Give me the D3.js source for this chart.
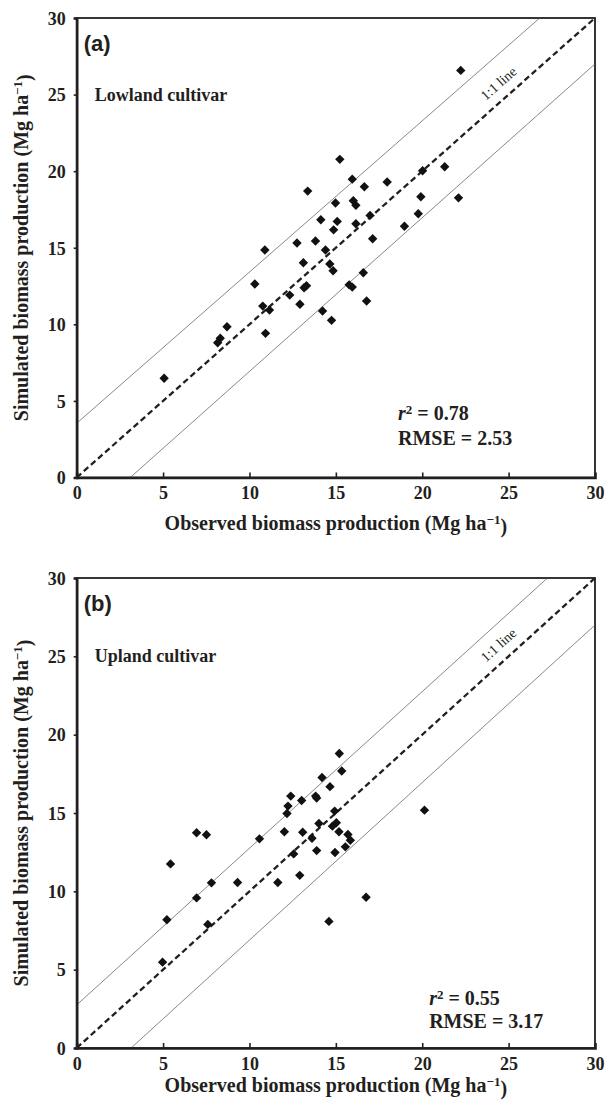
<!DOCTYPE html>
<html>
<head>
<meta charset="utf-8">
<script src="https://cdn.jsdelivr.net/npm/d3@7"></script>
<style>
  body { margin: 0; background: #fff; }
  svg { display: block; }
  text { fill: #231f20; }
</style>
</head>
<body>
<div id="chart"></div>
<script>
// tick values shared by both panels
const ticks = [0, 5, 10, 15, 20, 25, 30];

// (a) lowland cultivar: observed vs simulated (Mg ha-1)
const lowlandObs = [15.23, 15.95, 16.65, 17.97, 20.02, 13.37, 14.98, 16.01, 16.16, 19.92,
  14.13, 15.08, 14.87, 16.16, 16.98, 19.77, 18.97, 17.13, 10.89, 12.75,
  13.82, 14.4, 13.12, 14.65, 14.84, 16.59, 10.31, 13.3, 13.16, 15.77,
  15.95, 12.33, 16.78, 10.77, 11.16, 12.92, 14.23, 14.75, 8.7, 10.93,
  8.31, 8.16, 5.06, 22.23, 21.3, 22.1];
const lowlandSim = [20.77, 19.48, 18.98, 19.29, 20.03, 18.7, 17.92, 18.07, 17.77, 18.33,
  16.83, 16.72, 16.17, 16.57, 17.11, 17.22, 16.4, 15.59, 14.85, 15.31,
  15.44, 14.85, 14.02, 13.94, 13.5, 13.37, 12.63, 12.52, 12.39, 12.58,
  12.43, 11.91, 11.52, 11.19, 10.93, 11.31, 10.87, 10.26, 9.84, 9.41,
  9.09, 8.8, 6.48, 26.58, 20.29, 18.26];

// (b) upland cultivar
const uplandObs = [14.2, 15.34, 14.66, 12.39, 13.02, 13.83, 13.89, 12.23, 12.17, 14.93,
  14.02, 15.03, 14.8, 15.18, 15.7, 15.84, 15.55, 6.94, 7.51, 10.58,
  12.02, 13.08, 13.62, 12.56, 13.89, 14.95, 5.43, 7.8, 9.31, 11.64,
  12.91, 6.94, 16.75, 5.22, 7.59, 14.6, 4.97, 20.13, 15.2];
const uplandSim = [17.27, 17.68, 16.68, 16.08, 15.8, 16.08, 15.95, 15.44, 14.97, 15.12,
  14.33, 14.38, 14.16, 13.8, 13.63, 13.26, 12.84, 13.74, 13.61, 13.35,
  13.8, 13.77, 13.39, 12.39, 12.6, 12.48, 11.75, 10.54, 10.56, 10.56,
  11.02, 9.58, 9.62, 8.19, 7.89, 8.08, 5.48, 15.18, 18.8];

// thin bounding lines either side of the 1:1 line
const lowlandUpper = [[0, 3.54], [26.8, 30]];
const lowlandLower = [[3.1, 0], [30, 27.0]];
const uplandUpper = [[0, 2.75], [27.25, 30]];
const uplandLower = [[3.15, 0], [30, 27.0]];
const oneToOne = [[0, 0], [30, 30]];

const panels = [
  {tag: "(a)", label: "Lowland cultivar", obs: lowlandObs, sim: lowlandSim,
   upper: lowlandUpper, lower: lowlandLower, r2: "0.78", rmse: "2.53",
   top: 18, bottom: 477.5, statX: 18.6, statY: 3.75, statGap: 25, titleGap: 52},
  {tag: "(b)", label: "Upland cultivar", obs: uplandObs, sim: uplandSim,
   upper: uplandUpper, lower: uplandLower, r2: "0.55", rmse: "3.17",
   top: 578, bottom: 1048, statX: 20.4, statY: 2.75, statGap: 23, titleGap: 44}
];

const W = 607, H = 1107;
const left = 76.7, right = 595;
const serif = "'Liberation Serif', 'Times New Roman', serif";

const svg = d3.select("#chart").append("svg")
  .attr("width", W).attr("height", H);

panels.forEach(p => {
  const x = d3.scaleLinear().domain([0, 30]).range([left, right]);
  const y = d3.scaleLinear().domain([0, 30]).range([p.bottom, p.top]);
  const g = svg.append("g");
  const line = d3.line().x(d => x(d[0])).y(d => y(d[1]));

  // frame: thin top/right
  g.append("rect")
    .attr("x", x(0)).attr("y", y(30))
    .attr("width", x(30) - x(0)).attr("height", y(0) - y(30))
    .attr("fill", "none").attr("stroke", "#231f20").attr("stroke-width", 1.8);

  // bounding lines
  [p.upper, p.lower].forEach(l => {
    g.append("path").attr("d", line(l))
      .attr("fill", "none").attr("stroke", "#555").attr("stroke-width", 0.7);
  });
  g.append("path").attr("d", line(oneToOne))
    .attr("fill", "none").attr("stroke", "#231f20")
    .attr("stroke-width", 2.3).attr("stroke-dasharray", "6,3.5");

  // "1:1 line" label, rotated along the diagonal
  const ang = Math.atan2(y(0) - y(30), x(30) - x(0)) * 180 / Math.PI;
  g.append("text")
    .attr("transform", `translate(${x(24.6)},${y(25.5)}) rotate(${-ang})`)
    .attr("text-anchor", "middle")
    .style("font-family", serif).style("font-size", "14px")
    .text("1:1 line");

  // axes
  const xAxis = d3.axisBottom(x).tickValues(ticks).tickSize(-5).tickPadding(9)
    .tickFormat(d3.format("d"));
  const gx = g.append("g").attr("transform", `translate(0,${y(0)})`).call(xAxis);
  const yAxis = d3.axisLeft(y).tickValues(ticks).tickSize(3).tickPadding(8)
    .tickFormat(d3.format("d"));
  const gy = g.append("g").attr("transform", `translate(${x(0)},0)`).call(yAxis);
  [gx, gy].forEach(a => {
    a.select(".domain").attr("stroke", "#231f20").attr("stroke-width", 2.6);
    a.selectAll(".tick line").attr("stroke", "#231f20").attr("stroke-width", 1.6);
    a.selectAll(".tick text").style("font-family", serif).style("font-size", "18px")
      .style("font-weight", "bold").attr("fill", "#231f20");
  });
  gx.selectAll(".tick").filter(d => d === 0 || d === 30).select("line").remove();
  gy.selectAll(".tick text").attr("dy", "0.35em");

  // points
  const pts = p.obs.map((o, i) => [o, p.sim[i]]);
  g.append("g").selectAll("path").data(pts).join("path")
    .attr("transform", d => `translate(${x(d[0])},${y(d[1])}) rotate(45)`)
    .attr("d", d3.symbol(d3.symbolSquare, 44))
    .attr("fill", "#111");

  // panel tag and cultivar label
  g.append("text").attr("x", x(0) + 7).attr("y", y(30) + 33)
    .style("font-family", "'Liberation Sans', Arial, sans-serif")
    .style("font-size", "22px").style("font-weight", "bold")
    .text(p.tag);
  g.append("text").attr("x", x(0) + 18).attr("y", y(25) + 6)
    .style("font-family", serif).style("font-size", "18px").style("font-weight", "bold")
    .text(p.label);

  // stats
  const st = g.append("text").style("font-family", serif)
    .style("font-size", "20px").style("font-weight", "bold");
  const s1 = st.append("tspan").attr("x", x(p.statX)).attr("y", y(p.statY));
  s1.append("tspan").style("font-style", "italic").text("r");
  s1.append("tspan").attr("dy", "-0.45em").style("font-size", "13px").text("2");
  s1.append("tspan").attr("dy", "0.29em").text(" = " + p.r2);
  st.append("tspan").attr("x", x(p.statX)).attr("y", y(p.statY) + p.statGap)
    .text("RMSE = " + p.rmse);

  // axis titles
  const xt = g.append("text")
    .attr("x", (x(0) + x(30)) / 2).attr("y", y(0) + p.titleGap)
    .attr("text-anchor", "middle")
    .style("font-family", serif).style("font-size", "20px").style("font-weight", "bold");
  xt.append("tspan").text("Observed biomass production (Mg ha");
  xt.append("tspan").attr("dy", "-0.45em").style("font-size", "13px").text("\u22121");
  xt.append("tspan").attr("dy", "0.45em").text(")");

  const yt = g.append("text")
    .attr("transform", `translate(28,${(y(0) + y(30)) / 2}) rotate(-90)`)
    .attr("text-anchor", "middle")
    .style("font-family", serif).style("font-size", "20px").style("font-weight", "bold");
  yt.append("tspan").text("Simulated biomass production (Mg ha");
  yt.append("tspan").attr("dy", "-0.45em").style("font-size", "13px").text("\u22121");
  yt.append("tspan").attr("dy", "0.45em").text(")");
});
</script>
</body>
</html>
